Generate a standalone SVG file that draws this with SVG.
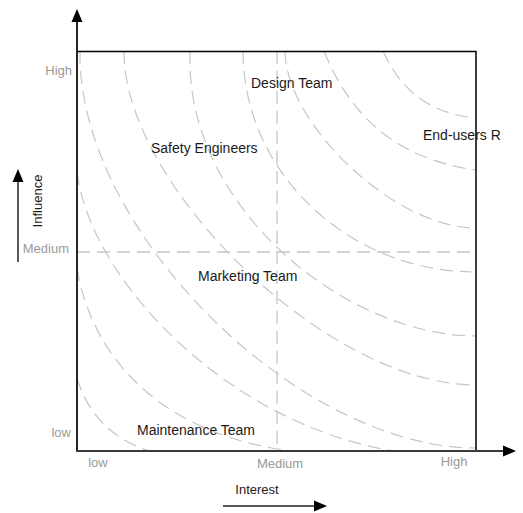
<svg xmlns="http://www.w3.org/2000/svg" width="523" height="513" viewBox="0 0 523 513">
<style>
.lbl{font-family:"Liberation Sans",Arial,sans-serif;font-size:14px;fill:#1a1a1a}
.tick{font-family:"Liberation Sans",Arial,sans-serif;font-size:13px;fill:#9a9a9a}
.ax{font-family:"Liberation Sans",Arial,sans-serif;font-size:13px;fill:#1a1a1a}
.grid{fill:none;stroke:#c6c6c6;stroke-width:1.3;stroke-dasharray:13 7}
.curve{fill:none;stroke:#c6c6c6;stroke-width:1.2;stroke-dasharray:13 7}
</style>
<defs>
<clipPath id="box"><rect x="77" y="51.5" width="399" height="399.5"/></clipPath>
<marker id="head" markerUnits="userSpaceOnUse" markerWidth="14" markerHeight="12" refX="1" refY="6" orient="auto">
<path d="M0,0.5 L13,6 L0,11.5 Z" fill="#000"/>
</marker>
</defs>
<rect width="523" height="513" fill="#fff"/>
<g id="curves" clip-path="url(#box)">
<path class="curve" d="M383,51 C401.4,92 431.3,113.5 476,118"/>
<path class="curve" d="M324,51 C352.2,121.1 401.1,159.4 476,170"/>
<path class="curve" d="M285,51 C286,125 395,228 476,228"/>
<path class="curve" d="M243,51 C243,172 348,272 476,272"/>
<path class="curve" d="M190,51 C184,208 347,336 476,336"/>
<path class="curve" d="M124,51 C123,185 327,385 476,385"/>
<path class="curve" d="M80,51 C77,230 298,448 476,448"/>
<path class="curve" d="M77,172 C92,290 250,445 430,455"/>
<path class="curve" d="M77,268 C92,360 165,438 300,452"/>
<path class="curve" d="M77,378 C88,415 115,445 165,455"/>
</g>
<g id="grid">
<line class="grid" x1="277" y1="51" x2="277" y2="451"/>
<line class="grid" x1="77" y1="252" x2="476" y2="252"/>
</g>
<g id="frame">
<path d="M77,51.5 H476 V451" fill="none" stroke="#000" stroke-width="1.5"/>
</g>
<g id="connectors">
<line x1="77" y1="451" x2="77" y2="21" stroke="#000" stroke-width="1.7" marker-end="url(#head)"/>
<line x1="76" y1="451" x2="504" y2="451" stroke="#3a3a3a" stroke-width="2.2" marker-end="url(#head)"/>
<line x1="18" y1="262" x2="18" y2="181" stroke="#000" stroke-width="1.3" marker-end="url(#head)"/>
<line x1="223" y1="506" x2="315" y2="506" stroke="#222" stroke-width="1.3" marker-end="url(#head)"/>
</g>
<g id="ticks">
<text class="tick" x="72" y="75" text-anchor="end">High</text>
<text class="tick" x="69" y="253" text-anchor="end">Medium</text>
<text class="tick" x="71" y="437" text-anchor="end">low</text>
<text class="tick" x="98" y="467" text-anchor="middle">low</text>
<text class="tick" x="280" y="468" text-anchor="middle">Medium</text>
<text class="tick" x="454" y="466" text-anchor="middle">High</text>
</g>
<g id="axis-labels">
<text class="ax" transform="translate(42,201) rotate(-90)" text-anchor="middle">Influence</text>
<text class="ax" x="257" y="494" text-anchor="middle">Interest</text>
</g>
<g id="design-team"><text class="lbl" x="251" y="88">Design Team</text></g>
<g id="safety-engineers"><text class="lbl" x="151" y="153">Safety Engineers</text></g>
<g id="end-users"><text class="lbl" x="423" y="140">End-users R</text></g>
<g id="marketing-team"><text class="lbl" x="198" y="281">Marketing Team</text></g>
<g id="maintenance-team"><text class="lbl" x="137" y="435">Maintenance Team</text></g>
</svg>
